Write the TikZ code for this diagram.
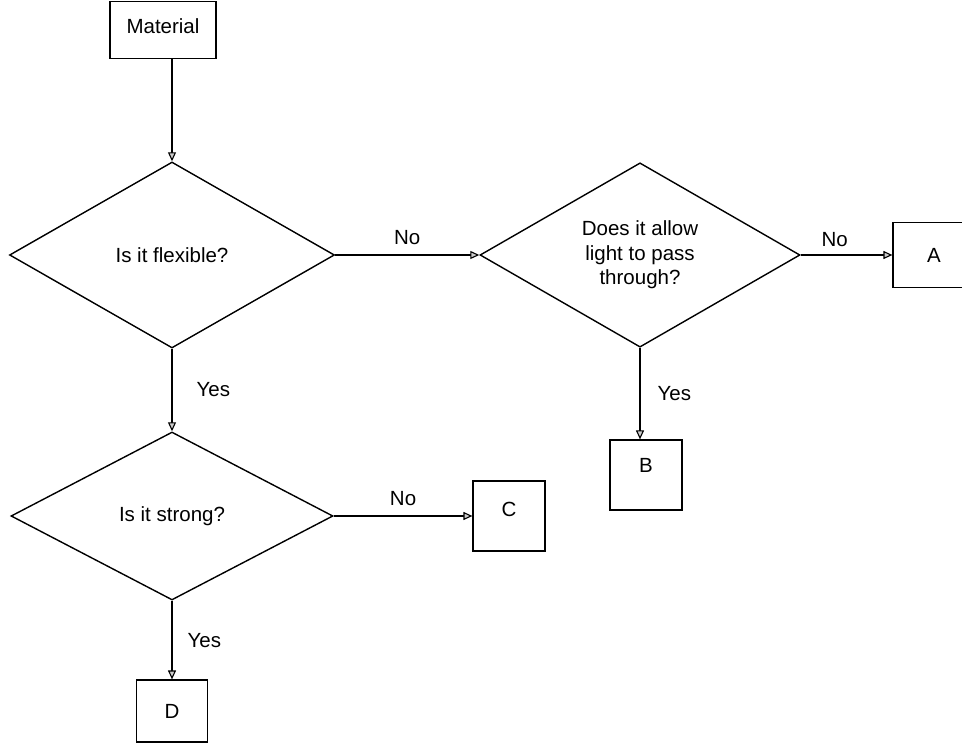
\documentclass[tikz,border=0pt]{standalone}
\usepackage{fontspec}
\setmainfont{Liberation Sans}
\usetikzlibrary{shapes.geometric,arrows.meta}
\begin{document}
\begin{tikzpicture}[x=1pt,y=-1pt,
  every node/.style={font=\fontsize{20.5}{24.5}\selectfont},
  boxnode/.style={draw, line width=1.2pt, inner sep=0pt},
  decision/.style={draw, diamond, line width=1.4pt, inner sep=0pt, align=center},
  flow/.style={line width=1.1pt, -{Triangle[open,length=9pt,width=8pt,fill=gray!40]}},
  lbl/.style={inner sep=1pt}]
\useasboundingbox (0,0) rectangle (962,743);
\node[boxnode, minimum width=106pt, minimum height=57pt, text height=15pt, text depth=8pt] (mat) at (163,30) {Material};
\node[decision, minimum width=325pt, minimum height=186pt] (d1) at (172,255) {Is it flexible?};
\node[decision, minimum width=320pt, minimum height=184pt] (d2) at (640,255) {Does it allow\\light to pass\\through?};
\node[boxnode, minimum width=82pt, minimum height=65pt] (A) at (934,255) {A};
\node[boxnode, minimum width=72pt, minimum height=70pt, text height=15pt, text depth=21pt] (B) at (646,475) {B};
\node[decision, minimum width=322pt, minimum height=168pt] (d3) at (172,516) {Is it strong?};
\node[boxnode, minimum width=72pt, minimum height=70pt, text height=15pt, text depth=15pt] (C) at (509,516) {C};
\node[boxnode, minimum width=71pt, minimum height=62pt] (D) at (172,711) {D};
\draw[flow] (d1.north |- mat.south) -- (d1.north);
\draw[flow] (d1.east) -- node[lbl, above=9pt] (n1) {No} (d2.west);
\draw[flow] (d2.east) -- node[lbl, above=7pt, pos=0.37] (n2) {No} (A.west);
\draw[flow] (d2.south) -- node[lbl, right=16pt] (y1) {Yes} (d2.south |- B.north);
\draw[flow] (d1.south) -- node[lbl, right=23pt] (y2) {Yes} (d3.north);
\draw[flow] (d3.east) -- node[lbl, above=9pt] (n3) {No} (C.west);
\draw[flow] (d3.south) -- node[lbl, right=14pt] (y3) {Yes} (D.north);
\end{tikzpicture}
\end{document}
